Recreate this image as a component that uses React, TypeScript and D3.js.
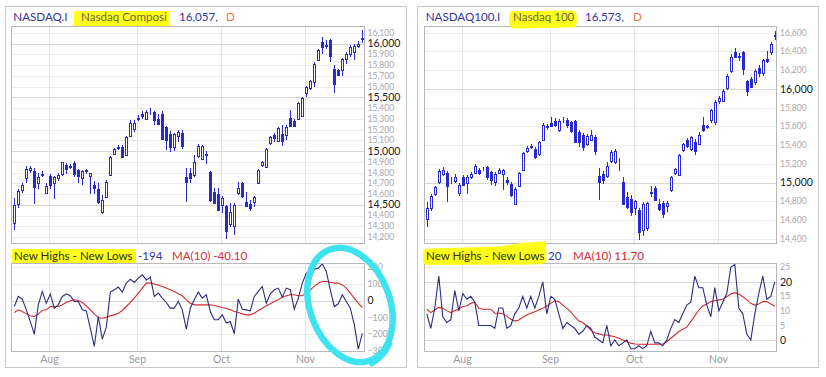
import React from 'react';
import * as d3 from 'd3';

const W = 826;
const H = 377;
const FONT = "Lato, 'Open Sans', sans-serif";

const monthLabels = ['Aug', 'Sep', 'Oct', 'Nov'];
const monthStartIndex = [9, 31, 52, 73];

// Nasdaq Composite daily candles (Jul 20 – Nov 19)
const compOpen = [
  14330, 14510, 14640, 14745, 14825, 14810, 14705, 14790, 14613, 14764,
  14700, 14745, 14787, 14870, 14855, 14890, 14820, 14745, 14815, 14770,
  14680, 14650, 14430, 14570, 14780, 14970, 15030, 15040, 14960, 15140,
  15210, 15300, 15350, 15300, 15370, 15360, 15300, 15350, 15220, 15160,
  15040, 15140, 15170, 14763, 14800, 14780, 14950, 14930, 14960, 14809,
  14623, 14600, 14499, 14490, 14320, 14300, 14610, 14700, 14530, 14510,
  14530, 14700, 14870, 14850, 15073, 15150, 15098, 15160, 15150, 15310,
  15280, 15296, 15327, 15545, 15585, 15647, 15849, 16020, 15990, 16030,
  15760, 15755, 15755, 15860, 15905, 15925, 15980, 16045,
];
const compHigh = [
  14560, 14645, 14705, 14860, 14865, 14840, 14800, 14815, 14700, 14790,
  14770, 14795, 14900, 14885, 14880, 14905, 14830, 14825, 14835, 14800,
  14720, 14700, 14590, 14730, 14955, 15030, 15060, 15060, 15140, 15290,
  15285, 15340, 15370, 15380, 15405, 15375, 15350, 15375, 15230, 15190,
  15170, 15200, 15200, 14840, 14840, 14960, 15070, 15060, 15000, 14815,
  14660, 14660, 14580, 14500, 14520, 14520, 14710, 14710, 14620, 14540,
  14585, 14830, 14910, 15030, 15140, 15165, 15220, 15240, 15240, 15380,
  15300, 15455, 15505, 15610, 15660, 15830, 15950, 16060, 16030, 16045,
  15800, 15765, 15870, 15920, 15990, 15995, 16025, 16130,
];
const compLow = [
  14266, 14470, 14610, 14700, 14800, 14508, 14650, 14755, 14600, 14650,
  14550, 14720, 14770, 14790, 14830, 14760, 14700, 14680, 14790, 14600,
  14600, 14510, 14410, 14560, 14770, 14960, 15010, 14940, 14950, 15140,
  15180, 15280, 15300, 15290, 15340, 15240, 15240, 15100, 15010, 14990,
  15000, 15080, 15020, 14530, 14700, 14760, 14940, 14920, 14880, 14530,
  14510, 14440, 14420, 14182, 14290, 14220, 14590, 14560, 14480, 14440,
  14480, 14690, 14850, 14840, 15060, 15080, 15090, 15050, 15100, 15220,
  15230, 15290, 15320, 15500, 15570, 15600, 15840, 15900, 15950, 15830,
  15545, 15700, 15700, 15810, 15880, 15850, 15960, 16010,
];
const compClose = [
  14499, 14632, 14685, 14837, 14841, 14661, 14763, 14778, 14673, 14681,
  14761, 14781, 14895, 14836, 14860, 14788, 14765, 14816, 14823, 14794,
  14656, 14526, 14542, 14715, 14943, 15020, 15042, 14946, 15130, 15266,
  15259, 15309, 15331, 15364, 15374, 15287, 15248, 15115, 15106, 15038,
  15162, 15182, 15044, 14714, 14746, 14897, 15052, 15048, 14970, 14547,
  14512, 14449, 14567, 14255, 14434, 14502, 14654, 14580, 14486, 14466,
  14572, 14823, 14897, 15022, 15129, 15122, 15216, 15090, 15227, 15236,
  15236, 15448, 15498, 15596, 15650, 15812, 15940, 15972, 15982, 15887,
  15623, 15704, 15861, 15900, 15974, 15975, 16000, 16057,
];
const compNhNl = [
  -34, 26, 10, -54, -124, -199, -24, 56, -14, 40,
  -44, -24, 26, 42, 30, -4, -4, -54, -60, -163,
  -273, -94, -229, -157, 52, 66, 82, 52, 106, 129,
  110, 135, 155, 125, 141, 26, 46, 16, -10, -44,
  -44, -4, -54, -169, -44, 6, 52, 16, 36, -64,
  -113, -113, -84, -133, -124, -197, 10, -50, -54, -60,
  26, 56, 86, -14, 42, 66, 76, 22, 76, 66,
  -50, 16, 106, 165, 129, 189, 195, 221, 175, 66,
  -34, -18, 36, -4, -44, -143, -289, -194,
];
const compMa = [
  -70, -54, -64, -78, -89, -93, -78, -58, -54, -34,
  -34, -34, -24, -10, 0, 6, 2, -10, -30, -54,
  -78, -100, -104, -98, -90, -84, -74, -58, -34, -10,
  16, 46, 76, 106, 106, 101, 95, 86, 76, 66,
  56, 42, 30, 6, -14, -24, -24, -24, -24, -24,
  -28, -34, -40, -44, -54, -64, -70, -78, -84, -84,
  -74, -58, -44, -30, -18, -4, 6, 22, 30, 36,
  36, 30, 30, 46, 66, 86, 106, 115, 115, 111,
  106, 106, 95, 76, 46, 16, -14, -40.1,
];

// Nasdaq 100 daily candles
const ndxOpen = [
  14609, 14726, 14879, 15010, 15095, 15105, 15015, 15020, 14891, 15060,
  14998, 15060, 15102, 15137, 15142, 15165, 15112, 15005, 15102, 15094,
  15024, 14990, 14777, 14970, 15137, 15336, 15380, 15361, 15308, 15457,
  15595, 15635, 15663, 15563, 15665, 15670, 15646, 15656, 15539, 15514,
  15414, 15457, 15485, 15076, 15094, 15069, 15230, 15219, 15205, 15005,
  14845, 14828, 14729, 14711, 14491, 14519, 14890, 14946, 14775, 14782,
  14750, 14917, 15101, 15087, 15350, 15456, 15360, 15431, 15413, 15619,
  15601, 15669, 15644, 15868, 15875, 16010, 16188, 16391, 16355, 16391,
  16088, 16106, 16070, 16223, 16166, 16319, 16391, 16560,
];
const ndxHigh = [
  14797, 14880, 14970, 15150, 15170, 15120, 15060, 15090, 15000, 15080,
  15080, 15110, 15200, 15160, 15170, 15180, 15130, 15110, 15160, 15150,
  15060, 15010, 14950, 15110, 15330, 15390, 15410, 15380, 15450, 15640,
  15630, 15700, 15690, 15680, 15700, 15690, 15660, 15670, 15560, 15530,
  15520, 15560, 15510, 15160, 15130, 15220, 15350, 15360, 15260, 15060,
  14900, 14870, 14820, 14730, 14790, 14790, 14960, 14960, 14830, 14800,
  14800, 15070, 15160, 15310, 15420, 15480, 15500, 15470, 15540, 15700,
  15620, 15790, 15880, 15920, 16000, 16160, 16370, 16440, 16380, 16400,
  16100, 16130, 16210, 16260, 16320, 16400, 16500, 16620,
];
const ndxLow = [
  14530, 14700, 14860, 14990, 15070, 14790, 14990, 15000, 14860, 14960,
  14880, 15040, 15090, 15080, 15120, 15030, 14980, 14960, 15090, 14924,
  14980, 14850, 14760, 14950, 15120, 15320, 15360, 15250, 15290, 15440,
  15560, 15590, 15590, 15540, 15640, 15580, 15530, 15420, 15380, 15340,
  15390, 15440, 15300, 14820, 14990, 15050, 15210, 15200, 15120, 14760,
  14720, 14640, 14660, 14391, 14430, 14480, 14850, 14800, 14700, 14620,
  14690, 14900, 15080, 15070, 15330, 15370, 15340, 15300, 15400, 15540,
  15570, 15640, 15620, 15840, 15860, 15990, 16170, 16330, 16300, 16150,
  15920, 16010, 16040, 16130, 16140, 16280, 16360, 16520,
];
const ndxClose = [
  14733, 14858, 14950, 15124, 15137, 14960, 15022, 15060, 14976, 14976,
  15066, 15094, 15182, 15102, 15150, 15060, 15024, 15094, 15137, 15137,
  15005, 14866, 14937, 15102, 15316, 15372, 15388, 15272, 15439, 15610,
  15603, 15606, 15610, 15656, 15672, 15610, 15556, 15432, 15432, 15379,
  15503, 15514, 15343, 15005, 15030, 15182, 15325, 15343, 15210, 14774,
  14746, 14686, 14800, 14473, 14775, 14780, 14902, 14818, 14722, 14668,
  14782, 15059, 15148, 15300, 15413, 15396, 15491, 15342, 15513, 15562,
  15590, 15775, 15857, 15903, 15974, 16141, 16344, 16344, 16340, 16213,
  15974, 16024, 16195, 16166, 16308, 16301, 16479, 16573,
];
const ndxNhNl = [
  9, 4, 11, 22, 8, 6, 7, 17, 10, 16,
  14, 15, 13, 5, 5, 5, 5, 4, 11, 11,
  4, 5, 9, 11, 15, 11, 15, 11, 15, 20,
  9, 15, 14, 9, 4, 6, 5, 4, 2, 3,
  5, 4, 1, 0, -1, 5, -2, 0, -2, -1,
  0, -3, -3, -2, -3, -2, 3, -1, -1, -2,
  0, 4, 7, 6, 9, 12, 13, 22, 18, 18,
  12, 8, 18, 10, 13, 16, 25, 26, 11, 9,
  2, 0, 9, 16, 22, 14, 15, 20,
];
const ndxMa = [
  10.6, 9.4, 10.3, 11.2, 10.9, 10.1, 9.4, 10.1, 10.6, 11.5,
  11.7, 12.6, 13.0, 10.9, 10.6, 10.6, 10.6, 9.2, 9.2, 9.0,
  8.3, 7.1, 6.5, 6.9, 7.8, 8.6, 9.2, 9.7, 10.3, 10.9,
  11.7, 12.6, 13.5, 13.2, 12.0, 10.9, 9.7, 8.0, 6.5, 6.0,
  4.8, 3.4, 2.5, 2.1, 1.7, 1.7, 1.4, 1.1, 0.6, 0,
  -0.6, -1.1, -1.4, -1.5, -1.5, -1.5, -1.5, -1.5, -1.5, -1.4,
  -0.6, 0.6, 1.7, 2.9, 3.7, 4.4, 6.3, 8.3, 10.3, 11.7,
  12.4, 13.2, 13.5, 13.8, 14.0, 14.9, 15.8, 16.3, 15.8, 14.9,
  13.8, 12.6, 12.0, 12.4, 13.2, 13.2, 12.4, 11.7,
];

const compPriceTicks = [14200, 14300, 14400, 14500, 14600, 14700, 14800, 14900, 15000, 15100, 15200, 15300, 15400, 15500, 15600, 15700, 15800, 15900, 16000, 16100];
const compPriceMajor = [14500, 15000, 15500, 16000];
const ndxPriceTicks = [14400, 14600, 14800, 15000, 15200, 15400, 15600, 15800, 16000, 16200, 16400, 16600];
const ndxPriceMajor = [15000, 16000];
const compIndTicks = [-300, -200, -100, 0, 100, 200];
const compIndMajor = [0];
const ndxIndTicks = [0, 5, 10, 15, 20, 25];
const ndxIndMajor = [0, 20];

const PRICE_TOP = 26;
const PRICE_BOTTOM = 243;
const IND_TOP = 263;
const IND_BOTTOM = 351;

const CANDLE = '#2a2acc';
const NAVY_TEXT = '#35359a';
const IND_LINE = '#2c2c80';
const MA_RED = '#d42b2b';
const YELLOW = '#ffff1a';

type Cfg = {
  left: number; right: number; firstX: number;
  outerL: number; outerR: number; labelX: number;
  priceDomain: [number, number]; priceTicks: number[]; priceMajor: number[];
  indDomain: [number, number]; indTicks: number[]; indMajor: number[];
  open: number[]; high: number[]; low: number[]; close: number[];
  nhnl: number[]; ma: number[];
};

function Panel({ c }: { c: Cfg }) {
  const n = c.close.length;
  const x = d3.scaleLinear().domain([0, n - 1]).range([c.firstX, c.firstX + 4 * (n - 1)]);
  const yP = d3.scaleLinear().domain(c.priceDomain).range([PRICE_BOTTOM, PRICE_TOP]);
  const yI = d3.scaleLinear().domain(c.indDomain).range([IND_BOTTOM, IND_TOP]);
  const fmt = d3.format(',');
  const line = d3.line<number>().x((_, i) => x(i)).y((d) => yI(d));
  const px = (v: number) => Math.round(v) + 0.5;

  return (
    <g>
      <rect x={c.outerL + 0.5} y={6.5} width={c.outerR - c.outerL} height={361} fill="#fff" stroke="#c9c9c9" />
      {c.priceTicks.map((t) => (
        <line key={'pg' + t} x1={c.left} x2={c.right} y1={px(yP(t))} y2={px(yP(t))}
          stroke={c.priceMajor.includes(t) ? '#d6d6d6' : '#ececec'} />
      ))}
      {c.indTicks.map((t) => (
        <line key={'ig' + t} x1={c.left} x2={c.right} y1={px(yI(t))} y2={px(yI(t))}
          stroke={c.indMajor.includes(t) ? '#dadada' : '#ececec'} />
      ))}
      {monthStartIndex.map((m) => {
        const gx = Math.round(x(m)) - 0.5;
        return (
          <g key={'mg' + m}>
            <line x1={gx} x2={gx} y1={PRICE_TOP} y2={PRICE_BOTTOM} stroke="#e4e4e4" />
            <line x1={gx} x2={gx} y1={IND_TOP} y2={IND_BOTTOM} stroke="#e4e4e4" />
          </g>
        );
      })}
      <g shapeRendering="crispEdges">
        {c.close.map((cl, i) => {
          const o = c.open[i];
          const cx = Math.round(x(i));
          const top = px(yP(Math.max(o, cl)));
          const bot = px(yP(Math.min(o, cl)));
          const hollow = cl > o;
          return (
            <g key={'c' + i}>
              <line x1={cx + 0.5} x2={cx + 0.5} y1={Math.round(yP(c.high[i]))} y2={Math.round(yP(c.low[i]))} stroke={CANDLE} />
              <rect x={cx - 0.5} y={top} width={2} height={Math.max(0, bot - top)}
                fill={hollow ? '#fff' : CANDLE} stroke={CANDLE} />
            </g>
          );
        })}
      </g>
      <path d={line(c.ma) || ''} fill="none" stroke={MA_RED} strokeWidth={1.1} />
      <path d={line(c.nhnl) || ''} fill="none" stroke={IND_LINE} strokeWidth={1.1} />
      <rect x={c.left + 0.5} y={PRICE_TOP + 0.5} width={c.right - c.left} height={PRICE_BOTTOM - PRICE_TOP} fill="none" stroke="#b8b8b8" />
      <rect x={c.left + 0.5} y={IND_TOP + 0.5} width={c.right - c.left} height={IND_BOTTOM - IND_TOP} fill="none" stroke="#b8b8b8" />
      {c.priceTicks.map((t) => {
        const major = c.priceMajor.includes(t);
        return (
          <text key={'pl' + t} x={c.labelX} y={yP(t)} dy="0.35em" fontFamily={FONT}
            fontSize={major ? 10.5 : 8.5} fill={major ? '#1a1a1a' : '#a8a8a8'}>{fmt(t)}</text>
        );
      })}
      {c.indTicks.map((t) => {
        const major = c.indMajor.includes(t);
        return (
          <text key={'il' + t} x={c.labelX} y={yI(t)} dy="0.35em" fontFamily={FONT}
            fontSize={major ? 10.5 : 8.8} fill={major ? '#1a1a1a' : '#a8a8a8'}>{fmt(t)}</text>
        );
      })}
      {monthStartIndex.map((m, k) => (
        <text key={'ml' + m} x={Math.round(x(m)) - 0.5} y={363} textAnchor="middle" fontFamily={FONT}
          fontSize={10.5} fill="#9a9a9a">{monthLabels[k]}</text>
      ))}
    </g>
  );
}

const leftCfg: Cfg = {
  left: 11, right: 364, firstX: 14.3, outerL: 5, outerR: 406, labelX: 367.5,
  priceDomain: [14144, 16165], priceTicks: compPriceTicks, priceMajor: compPriceMajor,
  indDomain: [-300, 226], indTicks: compIndTicks, indMajor: compIndMajor,
  open: compOpen, high: compHigh, low: compLow, close: compClose, nhnl: compNhNl, ma: compMa,
};
const rightCfg: Cfg = {
  left: 424, right: 776, firstX: 426.8, outerL: 417, outerR: 818, labelX: 780,
  priceDomain: [14357, 16671], priceTicks: ndxPriceTicks, priceMajor: ndxPriceMajor,
  indDomain: [-3.8, 26.5], indTicks: ndxIndTicks, indMajor: ndxIndMajor,
  open: ndxOpen, high: ndxHigh, low: ndxLow, close: ndxClose, nhnl: ndxNhNl, ma: ndxMa,
};

export default function App() {
  const lastComp = compClose[compClose.length - 1];
  const lastNdx = ndxClose[ndxClose.length - 1];
  const lastCompNh = compNhNl[compNhNl.length - 1];
  const lastNdxNh = ndxNhNl[ndxNhNl.length - 1];
  const lastCompMa = compMa[compMa.length - 1];
  const lastNdxMa = ndxMa[ndxMa.length - 1];
  const f0 = d3.format(',.0f');
  return (
    <div style={{ position: 'absolute', left: 0, top: 0 }}>
      <svg width={W} height={H} style={{ display: 'block', background: '#fff' }}>
        <rect x={0} y={0} width={W} height={H} fill="#fff" />
        <Panel c={leftCfg} />
        <Panel c={rightCfg} />

        <rect x={74} y={11} width={95} height={15} fill={YELLOW} />
        <rect x={12} y={249} width={124} height={14} fill={YELLOW} />
        <path d="M512,11 Q509,11 509,19 Q509,28 514,28.5 L573,27.5 Q577,27 577,19 Q577,10 572,10.5 Z" fill={YELLOW} />
        <path d="M423,252 Q423,248.5 430,248.5 L500,246.5 Q532,241 546,241.5 L546.5,261 Q545,264.5 535,264.5 L428,265 Q422,265 423,259 Z" fill={YELLOW} />

        <g fontFamily={FONT} fontSize={11.6}>
          <text x={13.3} y={21} fill={NAVY_TEXT}>NASDAQ.I</text>
          <text x={81} y={21} fill="#6a6640">Nasdaq Composi</text>
          <text x={179} y={21} fill={NAVY_TEXT}>{f0(lastComp)},</text>
          <text x={226} y={21} fill="#e27a3c">D</text>

          <text x={425.7} y={21} fill={NAVY_TEXT}>NASDAQ100.I</text>
          <text x={513} y={21} fill="#6a6640">Nasdaq 100</text>
          <text x={585} y={21} fill={NAVY_TEXT}>{f0(lastNdx)},</text>
          <text x={633} y={21} fill="#e27a3c">D</text>

          <text x={14} y={259.5} fill="#2e2e1c">New Highs - New Lows</text>
          <text x={138} y={259.5} fill={NAVY_TEXT}>{lastCompNh}</text>
          <text x={172} y={259.5} fill={MA_RED}>MA(10) {lastCompMa.toFixed(2)}</text>

          <text x={426} y={259.5} fill="#2e2e1c">New Highs - New Lows</text>
          <text x={548} y={259.5} fill={NAVY_TEXT}>{lastNdxNh}</text>
          <text x={573} y={259.5} fill={MA_RED}>MA(10) {lastNdxMa.toFixed(2)}</text>
        </g>

        <g fill="none" stroke="#3fe3f0" strokeWidth={6.5} strokeLinecap="round">
          <ellipse cx={350} cy={305} rx={40} ry={59} transform="rotate(-20 350 305)" />
          <path d="M372,363 Q383,357 389,344" />
        </g>
      </svg>
    </div>
  );
}
